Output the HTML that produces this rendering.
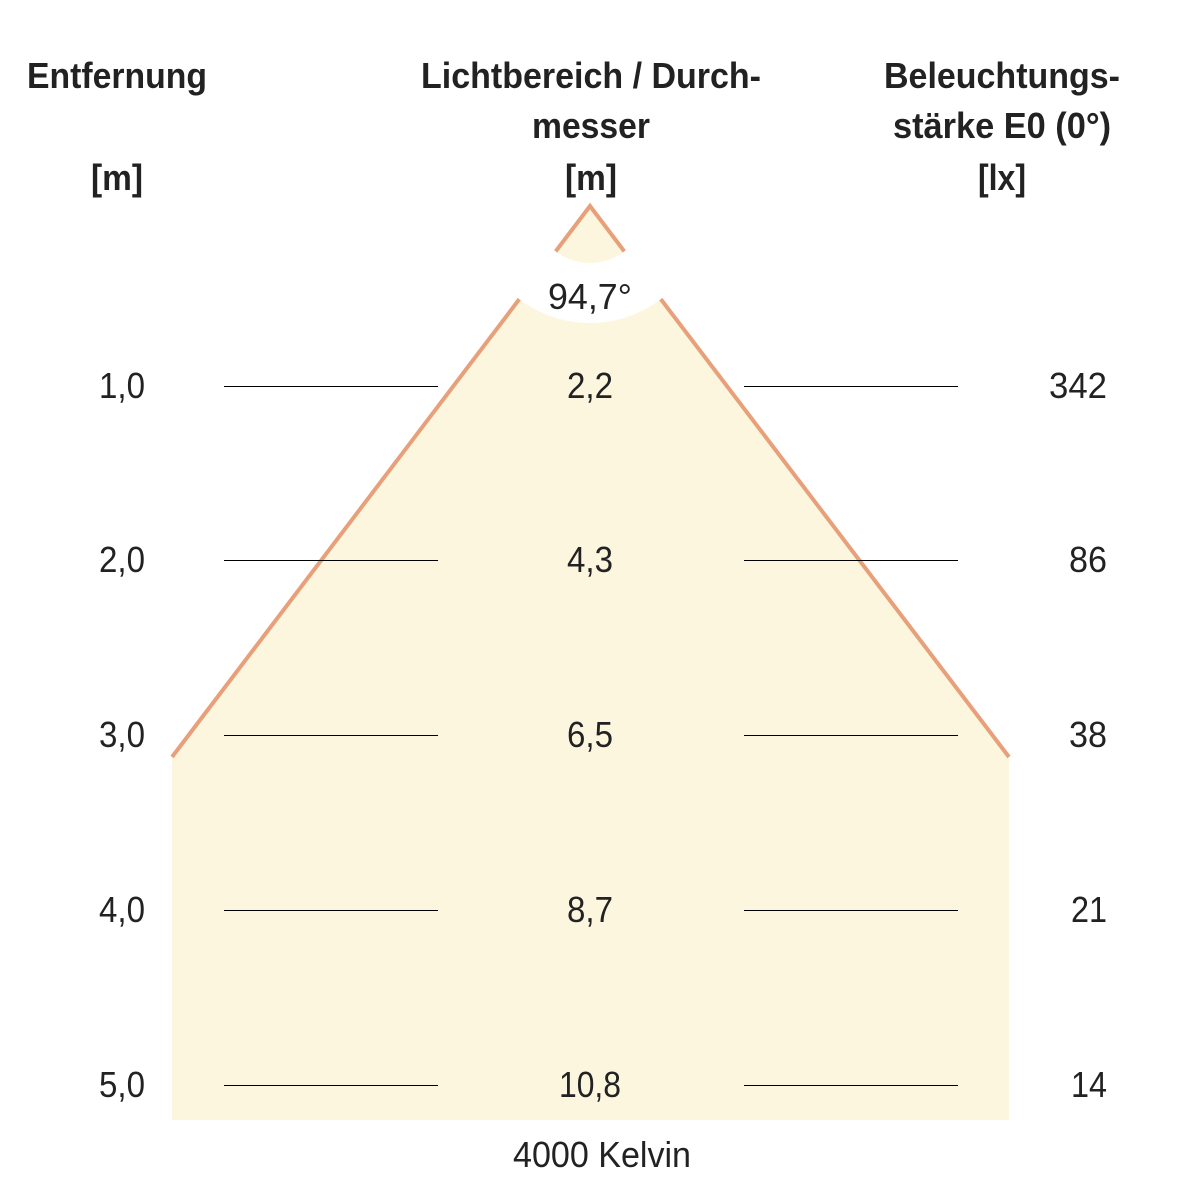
<!DOCTYPE html>
<html><head><meta charset="utf-8"><style>html,body{margin:0;padding:0;background:#fff}</style></head>
<body>
<svg width="1182" height="1182" viewBox="0 0 1182 1182" xmlns="http://www.w3.org/2000/svg" font-family="Liberation Sans, sans-serif">
<defs><clipPath id="c"><circle cx="590" cy="206" r="57"/></clipPath></defs>
<polygon points="590,206 172,757 172,1120 1009,1120 1009,757" fill="#fdf6df"/>
<polyline points="172,757 590,206 1009,757" fill="none" stroke="#e8a07a" stroke-width="4"/>
<circle cx="590" cy="206" r="117" fill="#fff"/>
<g clip-path="url(#c)">
<polygon points="590,206 500,325 680,325" fill="#fdf6df"/>
<polyline points="500,325 590,206 680,325" fill="none" stroke="#e8a07a" stroke-width="4"/>
</g>
<g stroke="#000" stroke-width="1">
<line x1="224" y1="386.5" x2="438" y2="386.5"/><line x1="744" y1="386.5" x2="958" y2="386.5"/>
<line x1="224" y1="560.5" x2="438" y2="560.5"/><line x1="744" y1="560.5" x2="958" y2="560.5"/>
<line x1="224" y1="735.5" x2="438" y2="735.5"/><line x1="744" y1="735.5" x2="958" y2="735.5"/>
<line x1="224" y1="910.5" x2="438" y2="910.5"/><line x1="744" y1="910.5" x2="958" y2="910.5"/>
<line x1="224" y1="1085.5" x2="438" y2="1085.5"/><line x1="744" y1="1085.5" x2="958" y2="1085.5"/>
</g>
<g font-weight="bold" font-size="36" fill="#222" text-anchor="middle">
<text x="117" y="88" textLength="180" lengthAdjust="spacingAndGlyphs">Entfernung</text>
<text x="117" y="190" textLength="52" lengthAdjust="spacingAndGlyphs">[m]</text>
<text x="591" y="88" textLength="340" lengthAdjust="spacingAndGlyphs">Lichtbereich / Durch-</text>
<text x="591" y="138" textLength="118" lengthAdjust="spacingAndGlyphs">messer</text>
<text x="591" y="190" textLength="52" lengthAdjust="spacingAndGlyphs">[m]</text>
<text x="1002" y="88" textLength="236" lengthAdjust="spacingAndGlyphs">Beleuchtungs-</text>
<text x="1002" y="138" textLength="218" lengthAdjust="spacingAndGlyphs">stärke E0 (0°)</text>
<text x="1002" y="190" textLength="48" lengthAdjust="spacingAndGlyphs">[lx]</text>
</g>
<g font-size="36" fill="#222" text-anchor="middle">
<text x="590" y="309" textLength="84" lengthAdjust="spacingAndGlyphs">94,7°</text>
<text x="122" y="398" textLength="46" lengthAdjust="spacingAndGlyphs">1,0</text>
<text x="122" y="572" textLength="46" lengthAdjust="spacingAndGlyphs">2,0</text>
<text x="122" y="747" textLength="46" lengthAdjust="spacingAndGlyphs">3,0</text>
<text x="122" y="922" textLength="46" lengthAdjust="spacingAndGlyphs">4,0</text>
<text x="122" y="1097" textLength="46" lengthAdjust="spacingAndGlyphs">5,0</text>
<text x="590" y="398" textLength="46" lengthAdjust="spacingAndGlyphs">2,2</text>
<text x="590" y="572" textLength="46" lengthAdjust="spacingAndGlyphs">4,3</text>
<text x="590" y="747" textLength="46" lengthAdjust="spacingAndGlyphs">6,5</text>
<text x="590" y="922" textLength="46" lengthAdjust="spacingAndGlyphs">8,7</text>
<text x="590" y="1097" textLength="62" lengthAdjust="spacingAndGlyphs">10,8</text>
<text x="602" y="1167" textLength="178" lengthAdjust="spacingAndGlyphs">4000 Kelvin</text>
</g>
<g font-size="36" fill="#222" text-anchor="end">
<text x="1107" y="398" textLength="58" lengthAdjust="spacingAndGlyphs">342</text>
<text x="1107" y="572" textLength="38" lengthAdjust="spacingAndGlyphs">86</text>
<text x="1107" y="747" textLength="38" lengthAdjust="spacingAndGlyphs">38</text>
<text x="1107" y="922" textLength="36" lengthAdjust="spacingAndGlyphs">21</text>
<text x="1107" y="1097" textLength="36" lengthAdjust="spacingAndGlyphs">14</text>
</g>
</svg>
</body></html>
